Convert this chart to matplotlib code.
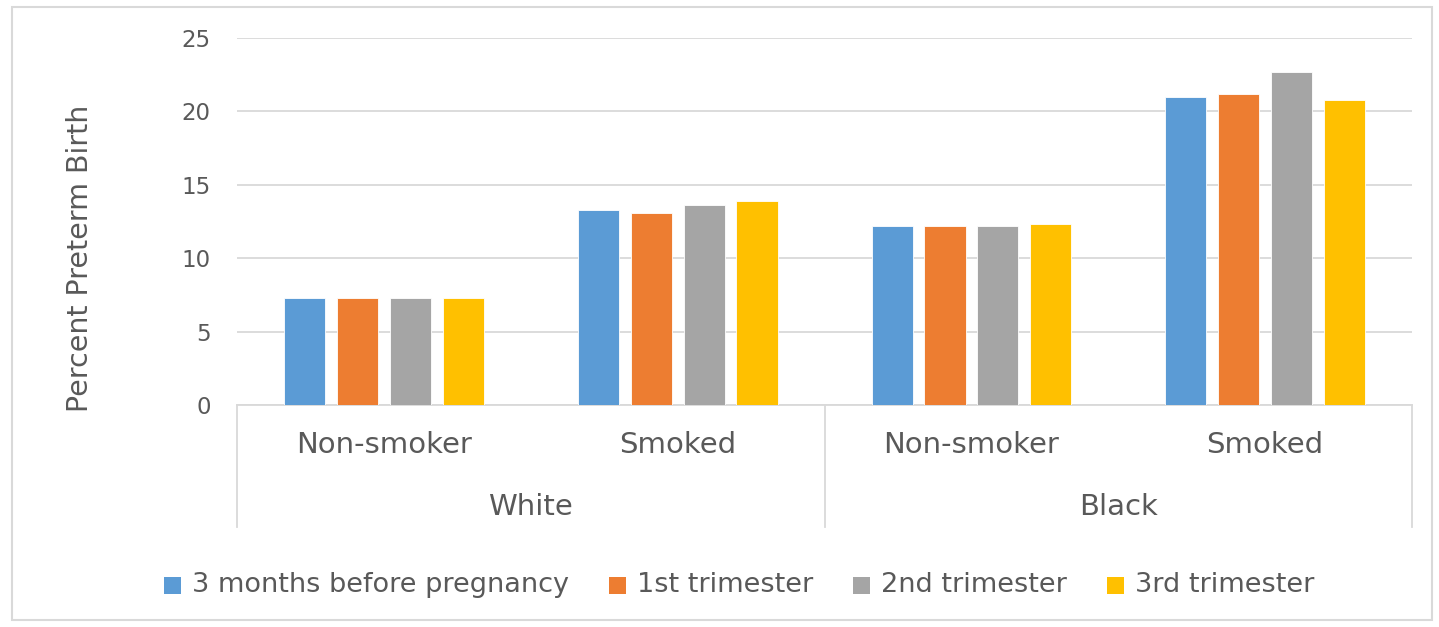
import matplotlib
matplotlib.use("Agg")
import matplotlib.pyplot as plt
from matplotlib.patches import Rectangle
from matplotlib.lines import Line2D
import matplotlib.transforms as mtrans
import numpy as np

races = ["White", "Black"]
smoking = ["Non-smoker", "Smoked"]
series_names = ["3 months before pregnancy", "1st trimester", "2nd trimester", "3rd trimester"]
# values per category: White Non-smoker, White Smoked, Black Non-smoker, Black Smoked
before_preg = [7.3, 13.3, 12.2, 21.0]
first_tri = [7.3, 13.1, 12.2, 21.2]
second_tri = [7.3, 13.6, 12.2, 22.7]
third_tri = [7.3, 13.9, 12.3, 20.8]
colors = ["#5B9BD5", "#ED7D31", "#A5A5A5", "#FFC000"]
yticks = [0, 5, 10, 15, 20, 25]

W, H = 1439, 627
plt.rcParams['font.family'] = ['DejaVu Sans']
fig = plt.figure(figsize=(W / 100, H / 100), dpi=100)
txt = "#595959"
grid = "#D9D9D9"

def fx(px):
    return px / W

def fy(py):
    return 1 - py / H

ax = fig.add_axes([fx(237), fy(405), fx(1412) - fx(237), fy(38) - fy(405)])

x = np.arange(4)
step = 0.18
width = 0.14
all_series = [before_preg, first_tri, second_tri, third_tri]
for i, (vals, c) in enumerate(zip(all_series, colors)):
    ax.bar(x + (i - 1.5) * step, vals, width=width, color=c, edgecolor="white", linewidth=0.6, zorder=3)

ax.set_xlim(-0.5, 3.5)
ax.set_ylim(0, 25)
ax.set_yticks(yticks)
ax.set_yticklabels([str(t) for t in yticks], fontsize=16.5, color=txt)
ax.tick_params(axis="y", length=0, pad=19)
ax.set_xticks([])
ax.yaxis.grid(True, color=grid, linewidth=1.3, zorder=0)
for s in ["top", "right", "left"]:
    ax.spines[s].set_visible(False)
ax.spines["bottom"].set_color(grid)
ax.spines["bottom"].set_linewidth(1.3)

# y axis title
fig.text(fx(80), fy(258), "Percent Preterm Birth", rotation=90, ha="center", va="center", fontsize=20.5, color=txt)

# multi-level category axis
bt = mtrans.blended_transform_factory(ax.transData, fig.transFigure)
for i in range(4):
    ax.text(x[i], fy(445), smoking[i % 2], transform=bt, ha="center", va="center", fontsize=21, color=txt)
for j, r in enumerate(races):
    ax.text(2 * j + 0.5, fy(507), r, transform=bt, ha="center", va="center", fontsize=21, color=txt)
for xb in [-0.5, 1.5, 3.5]:
    ax.add_line(Line2D([xb, xb], [fy(405), fy(527)], transform=bt, color=grid, linewidth=1.3, clip_on=False))

# outer border
fig.patches.append(Rectangle((fx(12), fy(620)), fx(1432) - fx(12), fy(7) - fy(620), transform=fig.transFigure,
                             fill=False, edgecolor="#D9D9D9", linewidth=1.5))

# legend: laid out manually, items separated by a fixed gap and centred
ly = 585
msize = 17
mgap = 11
igap = 40
leg_texts = [fig.text(0, fy(ly), name, ha="left", va="center", fontsize=19.5, color=txt) for name in series_names]
fig.canvas.draw()
renderer = fig.canvas.get_renderer()
widths = [t.get_window_extent(renderer).width for t in leg_texts]
total = sum(msize + mgap + w for w in widths) + igap * (len(widths) - 1)
cur = 739 - total / 2
for c, t, w in zip(colors, leg_texts, widths):
    fig.patches.append(Rectangle((fx(cur), fy(ly + msize / 2)), fx(msize), msize / H, transform=fig.transFigure,
                                 facecolor=c, edgecolor="none"))
    t.set_x(fx(cur + msize + mgap))
    cur += msize + mgap + w + igap

fig.savefig("out.png", dpi=100)
